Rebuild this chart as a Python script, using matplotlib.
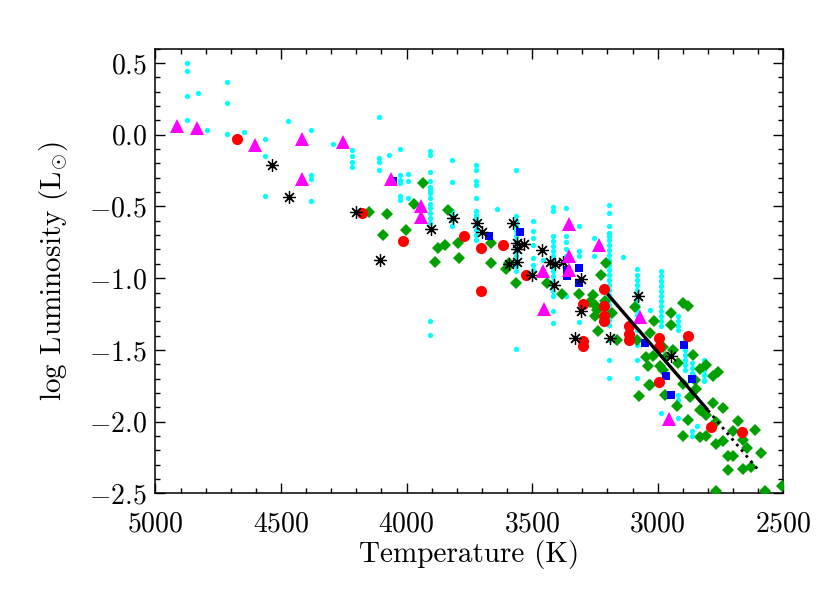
import matplotlib
matplotlib.use('Agg')
import matplotlib.pyplot as plt
from matplotlib.ticker import MultipleLocator, FuncFormatter

plt.rcParams['font.family'] = 'serif'
plt.rcParams['font.serif'] = ['cmr10', 'DejaVu Serif']
plt.rcParams['mathtext.fontset'] = 'cm'
plt.rcParams['axes.unicode_minus'] = True

# ---- data (Teff in K, log L in Lsun) ----
cyan_T = ([4876] * 4 + [4830, 4796] + [4717] * 3 + [4648] + [4564] * 3 + [4474] + [4380] * 4 + [4292]
          + [4217] * 4 + [4111] * 4 + [4069] + [4025] * 6 + [3995] * 3 + [3906] * 15 + [3818] * 6
          + [3725] * 13 + [3639] + [3565] * 14 + [3496] * 7 + [3458] + [3416] * 17 + [3366] * 6
          + [3313] * 4 + [3253] * 2 + [3138] + [3195] * 26 + [3082] * 15 + [2985] * 13 + [3032]
          + [2919] * 7 + [2893] * 7 + [2865] * 5 + [2817] * 6 + [2842])
cyan_L = ([0.50, 0.446, 0.267, 0.105, 0.291, 0.035, 0.368, 0.221, 0.005, 0.021, -0.028, -0.151, -0.430,
           0.096, 0.033, -0.278, -0.306, -0.462, -0.064, -0.104, -0.146, -0.193, -0.228,
           0.121, -0.162, -0.193, -0.244, -0.141, -0.097, -0.278, -0.313, -0.336, -0.430, -0.453,
           -0.271, -0.325, -0.441]
          + [-0.116, -0.139, -0.262, -0.325, -0.364, -0.383, -0.406, -0.441, -0.480, -0.510, -0.545,
             -0.580, -0.615, -1.296, -1.393]
          + [-0.174, -0.329, -0.534, -0.557, -0.592, -0.639]
          + [-0.209, -0.244, -0.325, -0.348, -0.441, -0.534, -0.557, -0.580, -0.604, -0.627, -0.662,
             -0.697, -0.732]
          + [-0.517]
          + [-0.248, -0.564, -0.599, -0.634, -0.669, -0.704, -0.739, -0.774, -0.808, -0.843, -0.878,
             -0.913, -0.948, -1.491]
          + [-0.604, -0.674, -0.718, -0.767, -0.857, -0.906, -0.941, -0.876]
          + [-0.503, -0.534, -0.708, -0.743, -0.778, -0.813, -0.848, -0.883, -0.917, -0.952, -0.987,
             -1.022, -1.057, -1.092, -1.127, -1.226, -1.312]
          + [-0.513, -0.705, -0.750, -0.800, -0.848, -1.125]
          + [-0.638, -0.812, -0.846, -1.307, -0.719, -0.843, -0.852]
          + [-0.492, -0.545, -0.634, -0.685, -0.708, -0.731, -0.766, -0.801, -0.836, -0.871, -0.906,
             -0.940, -0.975, -1.010, -1.045, -1.080, -1.115, -1.150, -1.184, -1.219, -1.254, -1.289,
             -1.324, -1.431, -1.570, -1.695]
          + [-0.933, -0.975, -1.010, -1.045, -1.080, -1.115, -1.150, -1.184, -1.219, -1.254, -1.289,
             -1.359, -1.463, -1.567, -1.695]
          + [-0.952, -0.987, -1.022, -1.057, -1.092, -1.127, -1.162, -1.196, -1.231, -1.266, -1.301,
             -1.336, -1.939, -1.219]
          + [-1.266, -1.301, -1.336, -1.359, -1.812, -1.852, -1.974]
          + [-1.429, -1.463, -1.498, -1.533, -1.568, -1.603, -1.637]
          + [-1.588, -1.623, -1.658, -2.067, -2.097]
          + [-1.568, -1.603, -1.637, -1.672, -1.707, -1.719, -2.032])

green_T = [4150, 4077, 3934, 4093, 4003, 3970, 3837, 3874, 3848, 3887, 3795, 3791, 3664, 3664, 3605,
           3592, 3565, 3439, 3383, 3315, 3257, 3224, 3206, 3268, 3242, 3250, 3250, 3237, 3184, 3211,
           3164, 3091, 3084, 3075, 3047, 3038, 3031, 3013, 2978, 2992, 2965, 2949, 2949, 2939, 2925,
           2899, 2879, 2899, 2919, 2859, 2833, 2806, 2779, 2760, 2852, 2847, 2872, 2879, 2901, 2833,
           2806, 2833, 2806, 2780, 2740, 2766, 2766, 2740, 2700, 2680, 2660, 2646, 2613, 2587, 2720,
           2700, 2720, 2660, 2627, 2766, 2574, 2507, 3034, 2972, 2978, 3031, 3018]
green_L = [-0.541, -0.550, -0.336, -0.697, -0.662, -0.482, -0.524, -0.791, -0.768, -0.884, -0.756,
           -0.860, -0.752, -0.896, -0.935, -0.896, -1.036, -1.036, -1.113, -1.113, -1.118, -0.975,
           -0.896, -1.167, -1.225, -1.266, -1.184, -1.365, -1.242, -1.161, -1.430, -1.199, -1.431,
           -1.820, -1.548, -1.613, -1.745, -1.300, -1.478, -1.613, -1.548, -1.242, -1.324, -1.501,
           -1.893, -1.172, -1.196, -1.734, -1.594, -1.533, -1.630, -1.602, -1.684, -1.656, -1.707,
           -1.770, -1.827, -1.986, -2.097, -1.920, -1.955, -2.107, -2.102, -1.873, -1.904, -2.002,
           -2.153, -2.137, -2.067, -1.998, -2.125, -2.183, -2.056, -2.218, -2.242, -2.242, -2.339,
           -2.329, -2.315, -2.481, -2.485, -2.450, -1.742, -1.812, -1.637, -1.381, -1.545]

blue_T = [4053, 3671, 3549, 3363, 3363, 3313, 3313, 3051, 2968, 2949, 2895, 2863]
blue_L = [-0.320, -0.706, -0.676, -0.940, -0.987, -0.929, -1.033, -1.451, -1.684, -1.811, -1.463, -1.700]

red_T = [4674, 4179, 4016, 3772, 3704, 3618, 3704, 3526, 3214, 3297, 3297, 3297, 3214, 3214, 3214,
         3114, 3114, 3114, 2996, 2996, 2996, 2881, 2786, 2666]
red_L = [-0.028, -0.545, -0.738, -0.704, -0.787, -0.771, -1.092, -0.975, -1.075, -1.177, -1.435,
         -1.475, -1.196, -1.261, -1.301, -1.331, -1.389, -1.428, -1.416, -1.479, -1.723, -1.405,
         -2.039, -2.074]

star_T = [4535, 4467, 4202, 4106, 3903, 3814, 3721, 3701, 3576, 3562, 3562, 3532, 3562, 3592, 3460,
          3430, 3410, 3379, 3412, 3501, 3307, 3307, 3330, 3191, 3078, 2949]
star_L = [-0.211, -0.437, -0.538, -0.871, -0.657, -0.578, -0.615, -0.680, -0.615, -0.754, -0.796,
          -0.759, -0.887, -0.899, -0.806, -0.890, -0.899, -0.887, -1.045, -0.980, -1.003, -1.231,
          -1.416, -1.416, -1.126, -1.545]

tri_T = [4916, 4834, 4604, 4418, 4255, 4418, 4064, 3944, 3944, 3353, 3353, 3353, 3456, 3234, 3453,
         3071, 2955]
tri_L = [0.063, 0.047, -0.069, -0.028, -0.053, -0.308, -0.308, -0.494, -0.573, -0.622, -0.848,
         -0.945, -0.952, -0.771, -1.212, -1.270, -1.979]

line_T = [3200, 2800]
line_L = [-1.11, -1.92]
dot_T = [2800, 2600]
dot_L = [-1.92, -2.335]

fig = plt.figure(figsize=(8.3, 5.93), dpi=100)
ax = fig.add_axes([0.1873, 0.1678, 0.7564, 0.7504])

ax.plot(cyan_T, cyan_L, 'o', color='#00ffff', ms=3.8, mew=0, zorder=2)
ax.plot(green_T, green_L, 'D', color='#00a000', ms=5.8, mew=0, zorder=3)
ax.plot(blue_T, blue_L, 's', color='#0000ff', ms=6, mew=0, zorder=4)
ax.plot(red_T, red_L, 'o', color='#ff0000', ms=8, mew=0, zorder=5)
ax.plot(star_T, star_L, marker=(8, 2, 0), ls='none', color='black', ms=9, mew=0.9, zorder=6)
ax.plot(tri_T, tri_L, '^', color='#ff00ff', ms=10, mew=0, zorder=7)
ax.plot(line_T, line_L, '-', color='black', lw=2.4, solid_capstyle='butt', zorder=8)
ax.plot(dot_T, dot_L, ':', color='black', lw=2.0, zorder=8)

ax.set_xlim(5000, 2500)
ax.set_ylim(-2.5, 0.6)
ax.xaxis.set_major_locator(MultipleLocator(500))
ax.xaxis.set_minor_locator(MultipleLocator(100))
ax.yaxis.set_major_locator(MultipleLocator(0.5))
ax.yaxis.set_minor_locator(MultipleLocator(0.1))
ax.xaxis.set_major_formatter(FuncFormatter(lambda v, p: f'${v:.0f}$'))
ax.yaxis.set_major_formatter(FuncFormatter(lambda v, p: f'${v:.1f}$'))
ax.tick_params(which='both', direction='in', top=True, right=True, width=1.0, labelsize=20)
ax.tick_params(which='major', length=7.5)
ax.tick_params(which='minor', length=3.8)
ax.tick_params(axis='x', pad=13)
ax.tick_params(axis='y', pad=6)
for s in ax.spines.values():
    s.set_linewidth(1.1)

ax.set_xlabel('Temperature (K)', fontsize=21, labelpad=1.5)
ax.set_ylabel(r'log Luminosity (L$_{\odot}$)', fontsize=21, labelpad=14)

fig.savefig('out.png', dpi=100)
